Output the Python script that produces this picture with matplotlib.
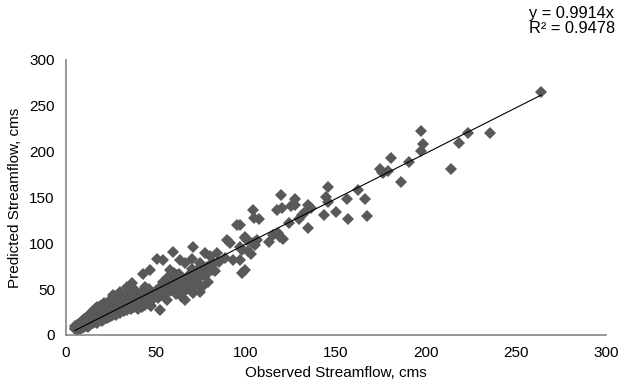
import matplotlib
matplotlib.use("Agg")
import matplotlib.pyplot as plt
import numpy as np

plt.rcParams['font.family'] = ['Liberation Sans', 'DejaVu Sans']

# observed / predicted streamflow pairs (cms)
observed = [
    5, 5, 6, 6, 6, 7, 7, 7, 7, 8, 8, 8, 8, 5, 6,
    9, 9, 9, 9, 10, 10, 10, 10, 11, 11, 11, 11, 12, 12, 12, 12,
    13, 13, 13, 13, 14, 14, 14, 14, 15, 15, 15, 15, 16, 16, 16, 16,
    17, 17, 17, 17, 17, 18, 18, 18, 18, 19, 19, 19, 19, 20, 20, 20, 20, 20,
    21, 21, 21, 21, 22, 22, 22, 22, 23, 23, 23, 23, 24, 24, 24, 24, 25, 25, 25,
    26, 26, 26, 26, 27, 27, 27, 28, 28, 28, 28, 29, 29, 29, 30, 30, 30, 30, 30,
    31, 31, 32, 32, 32, 32, 33, 33, 33, 34, 34, 34, 35, 35, 35, 35, 36, 36, 36,
    37, 37, 38, 38, 38, 38, 39, 39, 40, 40, 40, 41, 41, 42, 42, 42, 43, 43, 44, 44, 44,
    45, 45, 46, 46, 46, 47, 47, 48, 48, 49, 50, 50, 51, 52, 52, 53, 54, 55, 55,
    57, 59, 60, 62, 63, 65, 66, 68, 70, 72, 74, 76, 58, 61, 64, 67, 71, 73, 77,
    80, 82, 85, 60, 56, 54, 70, 75, 83,
    30, 26, 33.7, 36.5, 43, 46.7, 50.4, 53.7, 57.8, 61.5, 59.6, 63.3, 66.1, 69.8,
    70.7, 74.4, 77.2, 78.1, 80, 80.9, 84.1, 79, 75.4, 65.2, 68.9, 70.7, 74.4,
    64.3, 66.1, 54, 56, 52, 46.7, 78, 88.3, 92.9, 89.3, 91.1, 96.7, 99.4, 101.3,
    96.7, 99.4, 97.6, 106, 105, 95.2,
    96.7, 104, 104.4, 107.4, 99.4, 100.4, 105, 103.3, 112.6, 115.2, 118, 118.9,
    120.7, 102.8, 97.6, 119.3, 119.8, 117, 123.7, 127.2, 127.2, 125, 132.8, 130.9,
    129.6, 134.6, 135.9, 134.6, 145.6, 144.4, 145.7, 143.3, 150, 156, 156.9,
    162.2, 166.3, 167.4,
    174.4, 176, 179, 175.4, 180.4, 186, 190.7, 197.4, 198.1, 197.4, 214, 218.5,
    223.3, 235.6, 264,
]
predicted = [
    6, 8, 7, 9, 11, 6, 8, 10, 12, 7, 9, 11, 13, 10, 5,
    8, 10, 13, 15, 9, 11, 14, 17, 10, 12, 15, 18, 9, 13, 16, 20,
    11, 14, 18, 22, 12, 16, 20, 24, 13, 17, 21, 26, 14, 18, 23, 28,
    13, 17, 21, 25, 30, 15, 19, 24, 29, 16, 20, 26, 32, 15, 18, 22, 27, 33,
    17, 23, 29, 35, 18, 20, 26, 31, 19, 24, 28, 34, 20, 25, 30, 37, 21, 27, 33,
    22, 29, 35, 40, 24, 31, 38, 22, 27, 33, 42, 25, 30, 36, 24, 28, 34, 39, 45,
    27, 33, 26, 31, 38, 44, 29, 35, 41, 27, 32, 38, 30, 36, 43, 48, 28, 33, 40,
    31, 37, 30, 35, 42, 50, 33, 40, 28, 36, 44, 34, 41, 31, 38, 47, 36, 43, 33, 40, 52,
    38, 45, 35, 42, 50, 32, 40, 44, 38, 46, 42, 48, 40, 45, 52, 48, 44, 50, 58,
    55, 62, 52, 58, 66, 60, 56, 64, 60, 68, 62, 70, 48, 45, 52, 50, 53, 57, 64,
    76, 78, 80, 68, 62, 58, 72, 75, 70,
    47, 44, 52.7, 56.4, 67, 71, 82.6, 81.8, 71, 65.4, 90.8, 81.8, 78.2, 82.6,
    96.3, 78.2, 89, 74.5, 86.1, 70.9, 89, 58.1, 52.7, 47.2, 54.5, 45.4, 47.2,
    41.8, 38.2, 49, 38, 27, 32.7, 67, 83.6, 81.8, 103.6, 100, 96.3, 105.5, 92,
    81.8, 70.9, 67.9, 103.6, 98, 120,
    120, 136.3, 127.2, 126.2, 107.2, 103.6, 101.7, 100, 101, 109, 110.9, 107.2,
    104.4, 88, 92.7, 152.7, 138.9, 136.3, 121.8, 148.3, 141.8, 141, 134.5, 130.9,
    126.2, 141.8, 138.2, 116.7, 161.7, 150.8, 145.4, 131.3, 133.8, 148.3, 126.8,
    158.1, 148.3, 129.4,
    180.7, 176.3, 179, 178, 193.4, 167, 188.7, 222.8, 208.3, 201, 181, 209.7,
    220, 220.6, 265,
]
slope = 0.9914
r_squared = 0.9478
equation_text = "y = 0.9914x\nR\u00b2 = 0.9478"

obs = np.array(observed)
pred = np.array(predicted)

fig = plt.figure(figsize=(6.26, 3.87), dpi=100)
ax = fig.add_axes([0.1054, 0.1344, 0.8626, 0.7106])

ax.plot(obs, pred, linestyle='none', marker='D', markersize=6,
        color='#595959', markeredgewidth=0)

# linear trendline through origin
xs = np.array([obs.min(), obs.max()])
ax.plot(xs, slope * xs, color='black', linewidth=0.8)

ax.set_xlim(0, 300)
ax.set_ylim(0, 300)
ax.set_xticks(range(0, 301, 50))
ax.set_yticks(range(0, 301, 50))
ax.tick_params(length=0, labelsize=11, colors='black', pad=8)
for side in ['top', 'right']:
    ax.spines[side].set_visible(False)
for side in ['left', 'bottom']:
    ax.spines[side].set_color('#868686')
    ax.spines[side].set_linewidth(1.2)

ax.set_xlabel("Observed Streamflow, cms", fontsize=11, labelpad=4)
ax.set_ylabel("Predicted Streamflow, cms", fontsize=11, labelpad=5)

fig.text(0.845, 0.984, equation_text, fontsize=11.8,
         ha='left', va='top', linespacing=0.95)

fig.savefig("out.png", dpi=100)
